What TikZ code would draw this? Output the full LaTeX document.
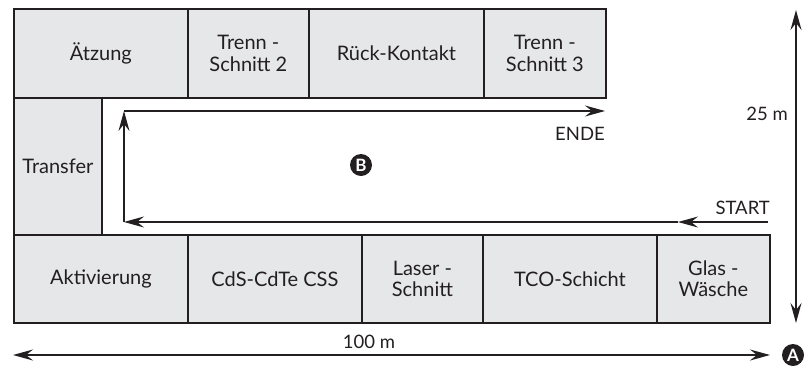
\documentclass[tikz,border=0pt]{standalone}
\usepackage{fontspec}
\setmainfont{Lato}
\usetikzlibrary{arrows.meta}
\definecolor{boxgray}{HTML}{E6E7E8}
\definecolor{ink}{HTML}{231F20}
\tikzset{
  stage/.style={draw=ink, fill=boxgray, line width=1.8pt, anchor=north west, inner sep=0pt,
    font=\fontsize{20}{21.5}\selectfont, text=ink, align=center},
  flow/.style={draw=ink, line width=1.3pt, -{Stealth[length=20pt,width=11pt,inset=7pt]}},
  dim/.style={draw=ink, line width=1.8pt, {Stealth[length=20pt,width=11pt,inset=7pt]}-{Stealth[length=20pt,width=11pt,inset=7pt]}},
  lbl/.style={font=\fontsize{18.5}{20}\selectfont, text=ink, inner sep=0pt},
  badge/.style={circle, fill=ink, text=white, inner sep=0pt, minimum size=22pt, font=\bfseries\fontsize{17}{17}\selectfont}
}
\begin{document}
\begin{tikzpicture}[x=1pt,y=-1pt]
\useasboundingbox (0,0) rectangle (812,365);
% top row
\node[stage, minimum width=174pt, minimum height=89pt] (etz) at (13,8) {Ätzung};
\node[stage, minimum width=121pt, minimum height=89pt] (ts2) at (187,8) {Trenn -\\Schnitt 2};
\node[stage, minimum width=175pt, minimum height=89pt] (rk) at (308,8) {Rück-Kontakt};
\node[stage, minimum width=122pt, minimum height=89pt] (ts3) at (483,8) {Trenn -\\Schnitt 3};
% transfer
\node[stage, minimum width=88pt, minimum height=137pt] (tr) at (13,97) {Transfer};
% bottom row
\node[stage, minimum width=174pt, minimum height=88pt] (akt) at (13,234) {Aktivierung};
\node[stage, minimum width=174pt, minimum height=88pt] (cds) at (187,234) {CdS-CdTe CSS};
\node[stage, minimum width=121pt, minimum height=88pt] (las) at (361,234) {Laser -\\Schnitt};
\node[stage, minimum width=174pt, minimum height=88pt] (tco) at (482,234) {TCO-Schicht};
\node[stage, minimum width=113pt, minimum height=88pt] (gw) at (656,234) {Glas -\\Wäsche};
% flow path
\coordinate (s) at (768,222);
\coordinate (m) at (678,222);
\coordinate (bl) at (124,222);
\coordinate (tl) at (124,111);
\coordinate (e) at (605,111);
\draw[flow] (s) -- (m);
\draw[flow] (m) -- (bl);
\draw[flow] (bl) -- (tl);
\draw[flow] (tl) -- (e);
\node[lbl, anchor=south east] (start) at (770,215) {START};
\node[lbl, anchor=north east] (ende) at (605,127) {ENDE};
\node[badge] (b) at (361,165) {B};
% dimensions
\coordinate (vt) at (796,10);
\coordinate (vb) at (796,323);
\draw[dim] (vt) -- (vb);
\node[lbl, anchor=east] (h25) at (788,114) {25 m};
\coordinate (hl) at (13,355);
\coordinate (hr) at (770,355);
\draw[dim] (hl) -- (hr);
\node[lbl] (h100) at (369,342) {100 m};
\node[badge] (a) at (793,355) {A};
\end{tikzpicture}
\end{document}
